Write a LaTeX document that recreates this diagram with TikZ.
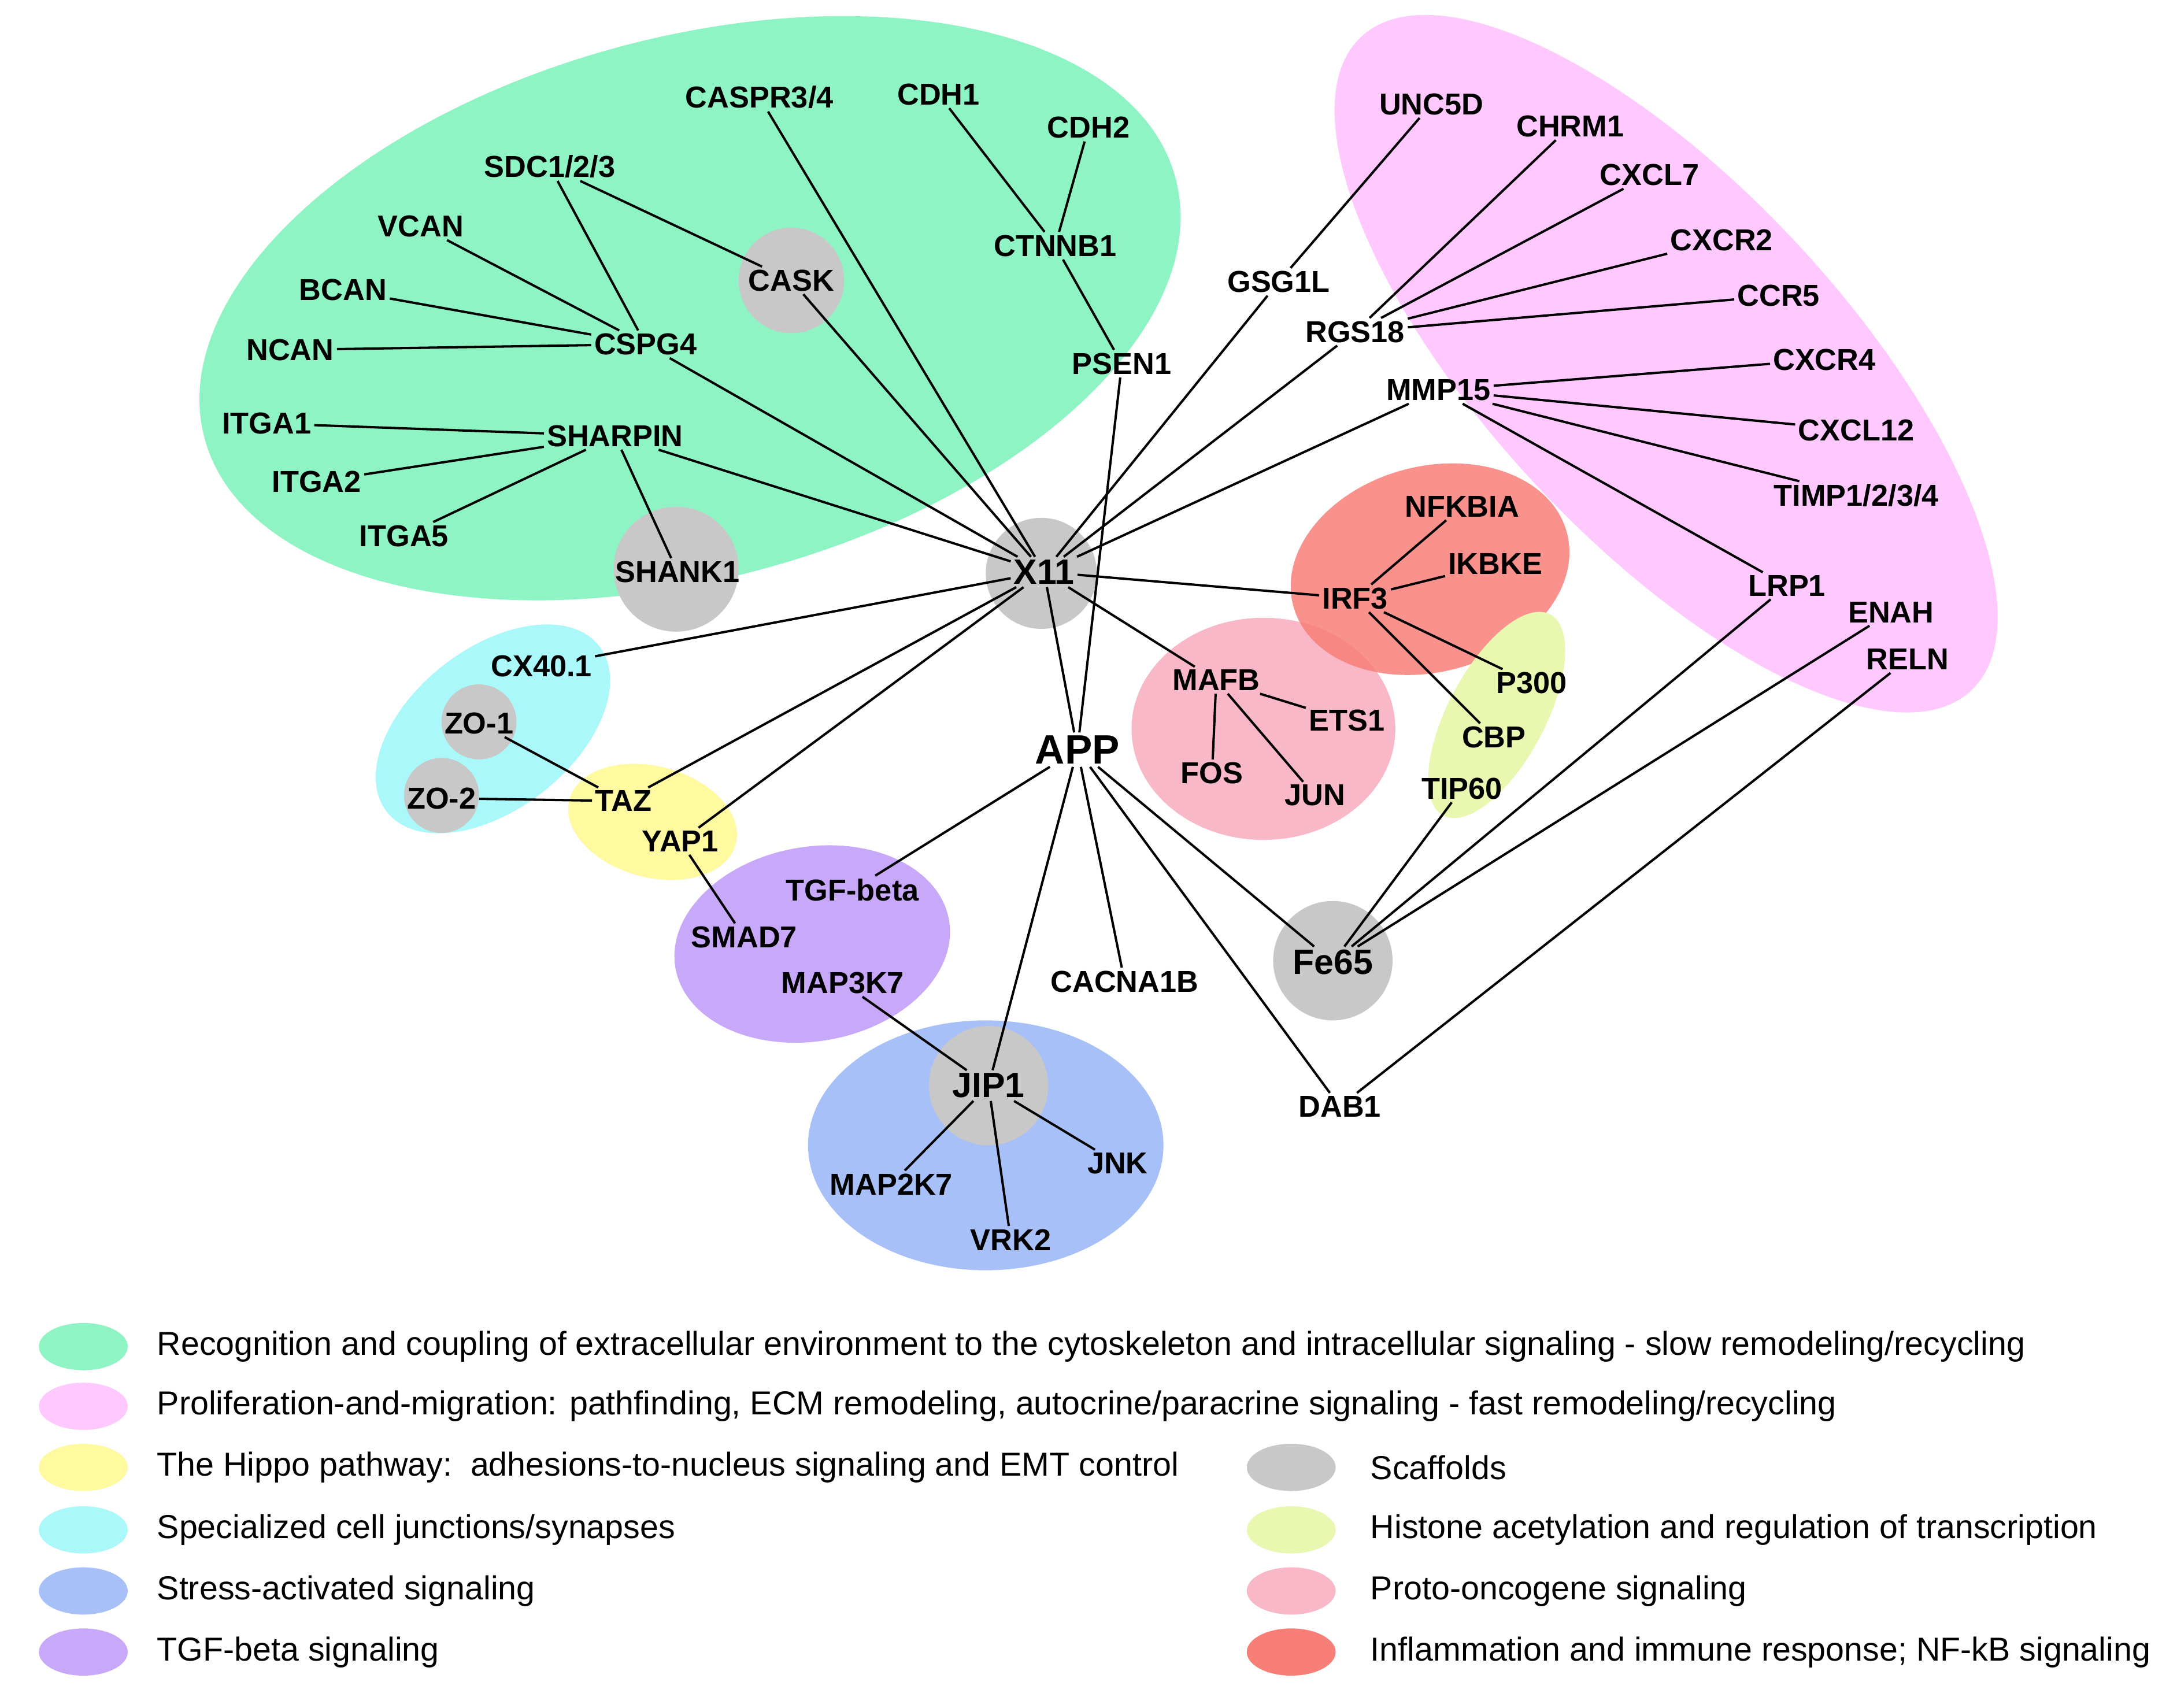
\documentclass[tikz,border=0pt]{standalone}
\usepackage{fontspec}
\setmainfont{Liberation Sans}
\begin{document}
\begin{tikzpicture}[x=0.05cm,y=-0.05cm,
 lab/.style={font=\fontsize{31}{33}\selectfont\bfseries,inner sep=3pt},
 big/.style={font=\fontsize{36}{38}\selectfont\bfseries,inner sep=3pt},
 leg/.style={font=\fontsize{34}{36}\selectfont,anchor=west,inner sep=0pt},
 e/.style={line width=2.4pt},
 blob/.style={fill opacity=0.85}]
\definecolor{kg}{HTML}{8FF4C4}\definecolor{km}{HTML}{FFC8FF}\definecolor{ky}{HTML}{FFF9A0}
\definecolor{kc}{HTML}{AAF8FA}\definecolor{kb}{HTML}{A8C0F8}\definecolor{kp}{HTML}{C8A8F8}
\definecolor{kgr}{HTML}{C8C8C8}\definecolor{kyg}{HTML}{E8F8B0}\definecolor{kpk}{HTML}{F8B8C8}
\definecolor{kr}{HTML}{F87E78}
\useasboundingbox (0,0) rectangle (1568,1230);
\fill[white] (0,0) rectangle (1568,1230);
% blobs
\fill[kg,rotate around={15:(497,222)}] (497,222) ellipse [x radius=362,y radius=195];
\fill[km,rotate around={-47:(1200,262)}] (1200,262) ellipse [x radius=322,y radius=128];
\fill[kpk] (910,525) ellipse [x radius=95,y radius=80];
\fill[kr,blob,rotate around={15:(1030,410)}] (1030,410) ellipse [x radius=102,y radius=74];
\fill[kyg,rotate around={62:(1078,515)}] (1078,515) ellipse [x radius=82,y radius=35];
\fill[kc,rotate around={38:(355,525)}] (355,525) ellipse [x radius=97,y radius=58];
\fill[ky,rotate around={-15:(470,592)}] (470,592) ellipse [x radius=62,y radius=40];
\fill[kp,rotate around={10:(585,680)}] (585,680) ellipse [x radius=100,y radius=70];
\fill[kb] (710,825) ellipse [x radius=128,y radius=90];
\foreach \p/\r in {{(570,202)}/38,{(487,410)}/45,{(750,413)}/40,{(345,520)}/27,{(318,573)}/27,{(712,782)}/43,{(960,692)}/43}
  \fill[kgr] \p circle[radius=\r];
% nodes
\node[lab] (caspr) at (547,70) {CASPR3/4};
\node[lab] (cdh1) at (676,68) {CDH1};
\node[lab] (cdh2) at (784,92) {CDH2};
\node[lab] (sdc) at (396,120) {SDC1/2/3};
\node[lab] (vcan) at (303,163) {VCAN};
\node[lab] (cask) at (570,202) {CASK};
\node[lab] (ctnnb1) at (760,177) {CTNNB1};
\node[lab] (bcan) at (247,209) {BCAN};
\node[lab] (cspg4) at (465,248) {CSPG4};
\node[lab] (ncan) at (209,252) {NCAN};
\node[lab] (psen1) at (808,262) {PSEN1};
\node[lab] (itga1) at (192,305) {ITGA1};
\node[lab] (sharpin) at (443,314) {SHARPIN};
\node[lab] (itga2) at (228,347) {ITGA2};
\node[lab] (itga5) at (291,386) {ITGA5};
\node[lab] (shank1) at (488,412) {SHANK1};
\node[big] (x11) at (752,412) {X11};
\node[lab] (unc5d) at (1031,75) {UNC5D};
\node[lab] (chrm1) at (1131,91) {CHRM1};
\node[lab] (cxcl7) at (1188,126) {CXCL7};
\node[lab] (gsg1l) at (921,203) {GSG1L};
\node[lab] (cxcr2) at (1240,173) {CXCR2};
\node[lab] (ccr5) at (1281,213) {CCR5};
\node[lab] (rgs18) at (976,239) {RGS18};
\node[lab] (cxcr4) at (1314,259) {CXCR4};
\node[lab] (mmp15) at (1036,281) {MMP15};
\node[lab] (cxcl12) at (1337,310) {CXCL12};
\node[lab] (timp) at (1337,357) {TIMP1/2/3/4};
\node[lab] (nfkbia) at (1053,365) {NFKBIA};
\node[lab] (ikbke) at (1077,406) {IKBKE};
\node[lab] (irf3) at (976,431) {IRF3};
\node[lab] (lrp1) at (1287,422) {LRP1};
\node[lab] (enah) at (1362,441) {ENAH};
\node[lab] (reln) at (1374,475) {RELN};
\node[lab] (cx40) at (390,480) {CX40.1};
\node[lab] (mafb) at (876,490) {MAFB};
\node[lab] (ets1) at (970,519) {ETS1};
\node[lab] (p300) at (1103,492) {P300};
\node[font=\fontsize{42}{44}\selectfont\bfseries,inner sep=3pt] (app) at (776,540) {APP};
\node[lab] (cbp) at (1076,531) {CBP};
\node[lab] (zo1) at (345,521) {ZO-1};
\node[lab] (fos) at (873,557) {FOS};
\node[lab] (jun) at (947,573) {JUN};
\node[lab] (tip60) at (1053,568) {TIP60};
\node[lab] (zo2) at (318,575) {ZO-2};
\node[lab] (taz) at (449,577) {TAZ};
\node[lab] (yap1) at (490,606) {YAP1};
\node[lab] (tgfb) at (614,641) {TGF-beta};
\node[lab] (smad7) at (536,675) {SMAD7};
\node[big] (fe65) at (960,693) {Fe65};
\node[lab] (cacna) at (810,707) {CACNA1B};
\node[lab] (map3k7) at (607,708) {MAP3K7};
\node[big] (jip1) at (712,782) {JIP1};
\node[lab] (dab1) at (965,797) {DAB1};
\node[lab] (jnk) at (805,838) {JNK};
\node[lab] (map2k7) at (642,853) {MAP2K7};
\node[lab] (vrk2) at (728,893) {VRK2};
% edges
\foreach \a/\b in {caspr/x11,cask/x11,cspg4/x11,sharpin/x11,cask/sdc,sdc/cspg4,vcan/cspg4,bcan/cspg4,ncan/cspg4,
 itga1/sharpin,itga2/sharpin,itga5/sharpin,sharpin/shank1,cdh1/ctnnb1,cdh2/ctnnb1,ctnnb1/psen1,psen1/app,
 gsg1l/unc5d,gsg1l/x11,rgs18/x11,mmp15/x11,rgs18/chrm1,rgs18/cxcl7,rgs18/cxcr2,rgs18/ccr5,mmp15/cxcr4,
 mmp15/cxcl12,mmp15/timp,mmp15/lrp1,x11/irf3,x11/mafb,x11/cx40,x11/taz,x11/yap1,x11/app,irf3/nfkbia,
 irf3/ikbke,irf3/p300,irf3/cbp,mafb/ets1,mafb/fos,mafb/jun,zo1/taz,zo2/taz,yap1/smad7,app/tgfb,app/jip1,
 app/cacna,app/fe65,app/dab1,fe65/tip60,fe65/lrp1,fe65/enah,dab1/reln,map3k7/jip1,jip1/jnk,jip1/map2k7,jip1/vrk2}
 \draw[e] (\a) -- (\b);
% legend
\foreach \c/\y/\t [count=\i] in {kg/970/{Recognition and coupling of extracellular environment to the cytoskeleton and intracellular signaling - slow remodeling/recycling},
 km/1013/{Proliferation-and-migration: pathfinding, ECM remodeling, autocrine/paracrine signaling - fast remodeling/recycling},
 ky/1057/{The Hippo pathway:\ \ adhesions-to-nucleus signaling and EMT control},
 kc/1102/{Specialized cell junctions/synapses},
 kb/1146/{Stress-activated signaling},
 kp/1190/{TGF-beta signaling}}
 {\fill[\c] (60,\y) ellipse[x radius=32,y radius=17];
  \node[leg] (l\i) at (113,\y) {\t};}
\foreach \c/\y/\t [count=\i] in {kgr/1057/{Scaffolds},
 kyg/1102/{Histone acetylation and regulation of transcription},
 kpk/1146/{Proto-oncogene signaling},
 kr/1190/{Inflammation and immune response; NF-kB signaling}}
 {\fill[\c] (930,\y) ellipse[x radius=32,y radius=17];
  \node[leg] (r\i) at (987,\y) {\t};}
\end{tikzpicture}
\end{document}
